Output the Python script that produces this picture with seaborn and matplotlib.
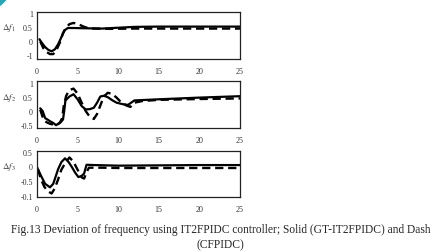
import matplotlib
matplotlib.use("Agg")
import matplotlib.pyplot as plt
import seaborn as sns
import pandas as pd
from matplotlib.patches import Ellipse

# ---- data ----
x_ticks = [0, 5, 10, 15, 20, 25]

t1_solid = [0.3, 0.6, 1.0, 1.4, 1.8, 2.2, 2.6, 3.0, 3.4, 3.8, 4.5, 6, 8, 10, 12, 15, 20, 25]
f1_solid = [0.08, -0.05, -0.2, -0.3, -0.35, -0.28, -0.1, 0.15, 0.4, 0.48, 0.48, 0.47, 0.46, 0.49, 0.52, 0.53, 0.53, 0.53]
t1_dash = [0.4, 0.8, 1.2, 1.6, 2.0, 2.4, 2.8, 3.2, 3.6, 4.0, 4.5, 5.0, 5.5, 6.0, 7, 9, 12, 15, 20, 25]
f1_dash = [0.0, -0.25, -0.38, -0.45, -0.45, -0.3, -0.05, 0.3, 0.5, 0.62, 0.66, 0.63, 0.56, 0.5, 0.46, 0.45, 0.46, 0.46, 0.46, 0.46]

t2_solid = [0.4, 0.7, 1.0, 1.3, 1.6, 2.0, 2.35, 2.6, 2.9, 3.2, 3.35, 3.5, 4.0, 4.5, 5.0, 5.5, 6.0, 6.5, 7.0, 7.4, 7.8, 8.3, 8.8, 9.3, 9.8, 10.5, 11.2, 11.6, 12.0, 15, 20, 25]
f2_solid = [0.1, 0.0, -0.25, -0.3, -0.36, -0.42, -0.5, -0.45, -0.4, -0.3, 0.0, 0.38, 0.52, 0.6, 0.42, 0.18, 0.06, 0.07, 0.12, 0.3, 0.52, 0.55, 0.48, 0.38, 0.3, 0.25, 0.22, 0.3, 0.38, 0.42, 0.48, 0.53]
t2_dash = [0.4, 0.8, 1.2, 1.6, 2.0, 2.4, 2.8, 3.1, 3.3, 3.6, 4.0, 4.5, 5.0, 5.5, 6.0, 6.5, 7.0, 7.4, 7.8, 8.2, 8.7, 9.2, 9.8, 10.4, 11.0, 11.5, 12.0, 13, 15, 20, 25]
f2_dash = [0.05, -0.3, -0.4, -0.45, -0.48, -0.5, -0.42, -0.25, 0.2, 0.55, 0.75, 0.8, 0.62, 0.3, 0.0, -0.2, -0.28, -0.1, 0.2, 0.5, 0.65, 0.62, 0.48, 0.3, 0.2, 0.15, 0.3, 0.36, 0.4, 0.43, 0.45]

t3_solid = [0.0, 0.5, 1.0, 1.6, 2.0, 2.3, 2.6, 3.0, 3.45, 3.9, 4.3, 4.7, 5.1, 5.5, 5.8, 6.1, 7, 10, 15, 20, 25]
f3_solid = [-0.03, -0.33, -0.6, -0.72, -0.6, -0.35, -0.1, 0.14, 0.27, 0.14, -0.03, -0.22, -0.37, -0.33, -0.25, 0.05, 0.04, 0.02, 0.03, 0.04, 0.04]
t3_dash = [0.1, 0.5, 0.9, 1.3, 1.8, 2.2, 2.6, 3.0, 3.5, 4.0, 4.5, 5.0, 5.5, 5.8, 6.1, 6.4, 8, 10, 15, 20, 25]
f3_dash = [-0.1, -0.45, -0.7, -0.85, -0.93, -0.75, -0.45, -0.12, 0.12, 0.3, 0.15, -0.12, -0.38, -0.42, -0.2, -0.05, -0.05, -0.06, -0.06, -0.06, -0.06]

y1_ticks = [1, 0.5, 0, -0.5]
y1_labels = ["1", "0.5", "0", "-1"]
y2_ticks = [1, 0.5, 0, -0.5]
y2_labels = ["1", "0.5", "0", "-0.5"]
y3_ticks = [0.5, 0, -0.5, -1]
y3_labels = ["0.5", "0", "-0.5", "-0.1"]

ylabels = [r"$\Delta f_1$", r"$\Delta f_2$", r"$\Delta f_3$"]
caption1 = "Fig.13 Deviation of frequency using IT2FPIDC controller; Solid (GT-IT2FPIDC) and Dash"
caption2 = "(CFPIDC)"

# ---- style ----
sns.set_style("white")
plt.rcParams["font.family"] = ["Liberation Serif", "DejaVu Serif"]
plt.rcParams["mathtext.fontset"] = "stix"

W, H = 441, 253
fig = plt.figure(figsize=(W / 100, H / 100), dpi=100)

panels = [
    (t1_solid, f1_solid, t1_dash, f1_dash, y1_ticks, y1_labels, (-0.625, 1.04), (13.3, 60), 0.5),
    (t2_solid, f2_solid, t2_dash, f2_dash, y2_ticks, y2_labels, (-0.6, 1.07), (82, 129), 0.5),
    (t3_solid, f3_solid, t3_dash, f3_dash, y3_ticks, y3_labels, (-1.05, 0.52), (152, 198), 0.0),
]

for i, (ts, fs, td, fd, yt, yl, ylim, (top, bot), lab_v) in enumerate(panels):
    ax = fig.add_axes([37 / W, 1 - bot / H, 203 / W, (bot - top) / H])
    ds = pd.DataFrame({"t": ts, "f": fs})
    dd = pd.DataFrame({"t": td, "f": fd})
    sns.lineplot(data=dd, x="t", y="f", ax=ax, color="black", lw=1.7,
                 linestyle=(0, (3.5, 2)), sort=False)
    sns.lineplot(data=ds, x="t", y="f", ax=ax, color="black", lw=1.6, sort=False)
    ax.set_xlim(0, 25)
    ax.set_ylim(*ylim)
    ax.set_xticks(x_ticks)
    ax.set_xticklabels([str(v) for v in x_ticks])
    ax.set_yticks(yt)
    ax.set_yticklabels(yl)
    ax.set_xlabel("")
    ax.set_ylabel("")
    ax.tick_params(length=0, labelsize=5.8, colors="#333333")
    ax.tick_params(axis="x", pad=6)
    ax.tick_params(axis="y", pad=3)
    for s in ax.spines.values():
        s.set_color("#222222")
        s.set_linewidth(0.9)
    ypix = ax.transData.transform((0, lab_v))[1]
    fig.text(9 / W, ypix / H, ylabels[i], fontsize=6.5, ha="center", va="center",
             color="#444444")

fig.text(0.5, 1 - 230 / H, caption1, fontsize=8.3, ha="center", va="center")
fig.text(0.5, 1 - 245.5 / H, caption2, fontsize=8.3, ha="center", va="center")

# decorative teal arc in the top-left corner
fig.patches.append(Ellipse((-20 / W, 1 + 20 / H), 66 / W, 66 / H,
                           transform=fig.transFigure, color="#2aa6b5", zorder=0))

fig.savefig("out.png", dpi=100)
